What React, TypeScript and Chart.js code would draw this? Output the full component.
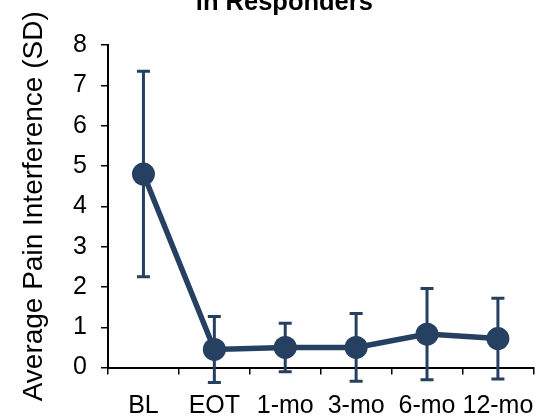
import React, { useEffect, useRef } from "react";
import { Chart, registerables } from "chart.js";

Chart.register(...registerables);

const categories = ["BL", "EOT", "1-mo", "3-mo", "6-mo", "12-mo"];
const meanValues = [4.8, 0.45, 0.5, 0.5, 0.83, 0.72];
const sdValues = [2.55, 0.82, 0.6, 0.84, 1.13, 1.0];
const yTickValues = [0, 1, 2, 3, 4, 5, 6, 7, 8];

const NAVY = "#254061";
const FONT = "'Liberation Sans', Arial, Helvetica, sans-serif";

const errorBarPlugin = {
  id: "errorBars",
  afterDatasetsDraw(chart: any) {
    const { ctx, scales } = chart;
    const x = scales.x;
    const y = scales.y;
    ctx.save();
    ctx.strokeStyle = NAVY;
    ctx.lineWidth = 3;
    ctx.lineCap = "butt";
    meanValues.forEach((m, i) => {
      const px = x.getPixelForValue(i);
      const top = y.getPixelForValue(m + sdValues[i]);
      const bot = y.getPixelForValue(m - sdValues[i]);
      ctx.beginPath();
      ctx.moveTo(px, top);
      ctx.lineTo(px, bot);
      ctx.moveTo(px - 6.5, top);
      ctx.lineTo(px + 6.5, top);
      ctx.moveTo(px - 6.5, bot);
      ctx.lineTo(px + 6.5, bot);
      ctx.stroke();
    });
    ctx.restore();
  },
};

export default function App() {
  const canvasRef = useRef<HTMLCanvasElement | null>(null);

  useEffect(() => {
    if (!canvasRef.current) return;
    const chart = new Chart(canvasRef.current, {
      type: "line",
      data: {
        labels: categories,
        datasets: [
          {
            data: meanValues,
            borderColor: NAVY,
            backgroundColor: NAVY,
            borderWidth: 5.5,
            pointRadius: 11.5,
            pointHoverRadius: 11.5,
            pointBackgroundColor: NAVY,
            pointBorderWidth: 0,
            tension: 0,
            clip: false as any,
          },
        ],
      },
      options: {
        animation: false,
        responsive: false,
        maintainAspectRatio: false,
        layout: { padding: { left: 17.7, right: 0, top: 0, bottom: 0 } },
        plugins: {
          legend: { display: false },
          tooltip: { enabled: false },
          title: {
            display: true,
            text: "in Responders",
            color: "#000",
            font: { family: FONT, size: 25.5, weight: "bold" },
            padding: { top: 0, bottom: 26.4 },
          },
        },
        scales: {
          x: {
            type: "category",
            offset: true,
            grid: {
              display: true,
              drawOnChartArea: false,
              drawTicks: true,
              tickLength: 7,
              color: "#000",
              lineWidth: 1.5,
              offset: true,
            },
            border: { display: true, color: "#000", width: 2 },
            ticks: {
              color: "#000",
              font: { family: FONT, size: 25 },
              padding: 16.7,
              autoSkip: false,
              maxRotation: 0,
              minRotation: 0,
            },
          },
          y: {
            min: 0,
            max: 8,
            afterBuildTicks: (scale: any) => {
              scale.ticks = yTickValues.map((v) => ({ value: v }));
            },
            grid: {
              display: true,
              drawOnChartArea: false,
              drawTicks: true,
              tickLength: 7,
              color: "#000",
              lineWidth: 1.5,
            },
            border: { display: true, color: "#000", width: 2 },
            ticks: {
              color: "#000",
              font: { family: FONT, size: 25 },
              padding: 14,
            },
            title: {
              display: true,
              text: "Average Pain Interference (SD)",
              color: "#000",
              font: { family: FONT, size: 28 },
              padding: { top: 0, bottom: 7.8 },
            },
          },
        },
      },
      plugins: [errorBarPlugin],
    });
    return () => chart.destroy();
  }, []);

  return (
    <div
      style={{
        position: "fixed",
        left: 0,
        top: 0,
        width: 543,
        height: 419,
        overflow: "hidden",
        background: "#fff",
      }}
    >
      <canvas
        ref={canvasRef}
        width={551}
        height={450}
        style={{ position: "absolute", left: 0, top: -12, width: 551, height: 450 }}
      />
    </div>
  );
}
